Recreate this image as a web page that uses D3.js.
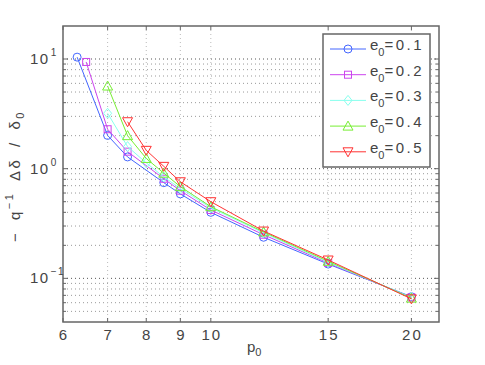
<!DOCTYPE html>
<html>
<head>
<meta charset="utf-8">
<script src="https://cdn.jsdelivr.net/npm/d3@7"></script>
<style>
  body { margin: 0; background: #fff; }
  text { font-family: "Liberation Sans", Arial, sans-serif; fill: #444; }
</style>
</head>
<body>
<div id="chart"></div>
<script>
    // data
    var labels = ["0.1", "0.2", "0.3", "0.4", "0.5"];
    var colors = ["#4466ff", "#cc44ee", "#88ffee", "#77ee33", "#ff3333"];
    var shapes = ["circle", "square", "diamond", "triangle", "triangledown"];

    var p_01 = [6.3, 7, 7.5, 8.5, 9, 10, 12, 15, 20];
    var v_01 = [10.4, 2.01, 1.28, 0.746, 0.589, 0.40, 0.237, 0.135, 0.068];
    var p_02 = [6.5, 7, 7.5, 8.5, 9, 10, 12, 15, 20];
    var v_02 = [9.4, 2.29, 1.43, 0.81, 0.63, 0.42, 0.25, 0.138, 0.067];
    var p_03 = [7, 7.5, 8, 8.5, 9, 10, 12, 15, 20];
    var v_03 = [3.2, 1.59, 1.13, 0.84, 0.66, 0.44, 0.26, 0.14, 0.067];
    var p_04 = [7, 7.5, 8, 8.5, 9, 10, 12, 15, 20];
    var v_04 = [5.67, 2.0, 1.24, 0.91, 0.686, 0.45, 0.265, 0.143, 0.066];
    var p_05 = [7.5, 8, 8.5, 9, 10, 12, 15, 20];
    var v_05 = [2.68, 1.47, 1.05, 0.76, 0.50, 0.27, 0.147, 0.065];

    var xticks = [6, 7, 8, 9, 10, 15, 20];
    var yticks = [0.1, 1, 10];
    var exps = ["\u22121", "0", "1"];

    var series = [[p_01, v_01], [p_02, v_02], [p_03, v_03], [p_04, v_04], [p_05, v_05]];

    var w = 485, h = 365;
    var pl = 63, pr = 439, pt = 26, pb = 322;

    var x = d3.scaleLog().domain([6, 22]).range([pl, pr]);
    var y = d3.scaleLog().domain([0.04, 20]).range([pb, pt]);

    var svg = d3.select("#chart").append("svg")
        .attr("width", w)
        .attr("height", h);

    // minor y positions: 2..9 times each decade
    var yminor = [];
    [0.01, 0.1, 1, 10].forEach(function(d) {
        for (var k = 2; k <= 9; k++) {
            var v = d * k;
            if (v > 0.04 && v < 20) yminor.push(v);
        }
    });

    var grid = svg.append("g");
    grid.selectAll("line.ymin")
        .data(yminor)
        .enter().append("line")
        .attr("x1", pl).attr("x2", pr)
        .attr("y1", function(d) { return y(d); })
        .attr("y2", function(d) { return y(d); })
        .style("stroke", "#999")
        .style("stroke-width", 1)
        .style("stroke-dasharray", "1,3");
    grid.selectAll("line.ymaj")
        .data(yticks)
        .enter().append("line")
        .attr("x1", pl).attr("x2", pr)
        .attr("y1", function(d) { return y(d); })
        .attr("y2", function(d) { return y(d); })
        .style("stroke", "#555")
        .style("stroke-width", 1)
        .style("stroke-dasharray", "1,3");
    grid.selectAll("line.x")
        .data(xticks.slice(1))
        .enter().append("line")
        .attr("x1", function(d) { return x(d); })
        .attr("x2", function(d) { return x(d); })
        .attr("y1", pt).attr("y2", pb)
        .style("stroke", "#bbb")
        .style("stroke-width", 1)
        .style("stroke-dasharray", "1,3");

    // ticks, all four sides, inward
    var tk = svg.append("g").style("stroke", "#666").style("stroke-width", 1);
    xticks.forEach(function(d) {
        tk.append("line").attr("x1", x(d)).attr("x2", x(d)).attr("y1", pb).attr("y2", pb - 4);
        tk.append("line").attr("x1", x(d)).attr("x2", x(d)).attr("y1", pt).attr("y2", pt + 4);
    });
    yminor.concat(yticks).forEach(function(d) {
        var len = yticks.indexOf(d) >= 0 ? 5 : 3;
        tk.append("line").attr("x1", pl).attr("x2", pl + len).attr("y1", y(d)).attr("y2", y(d));
        tk.append("line").attr("x1", pr).attr("x2", pr - len).attr("y1", y(d)).attr("y2", y(d));
    });

    svg.append("rect")
        .attr("x", pl).attr("y", pt)
        .attr("width", pr - pl).attr("height", pb - pt)
        .style("fill", "none")
        .style("stroke", "#666")
        .style("stroke-width", 1.5);

    // tick labels
    svg.selectAll("text.xt")
        .data(xticks)
        .enter().append("text")
        .attr("x", function(d) { return x(d) + 1; })
        .attr("y", 340)
        .attr("text-anchor", "middle")
        .style("font-size", "15px")
        .style("letter-spacing", "2px")
        .text(function(d) { return d; });

    yticks.forEach(function(d, i) {
        var t = svg.append("text")
            .attr("x", 30)
            .attr("y", y(d) + 5)
            .style("font-size", "15px")
            .style("letter-spacing", "1.5px");
        t.append("tspan").text("10");
        t.append("tspan").attr("dx", 1).attr("dy", -8).style("font-size", "10px").text(exps[i]);
    });

    // axis labels
    var xl = svg.append("text")
        .attr("x", 247).attr("y", 352)
        .style("font-size", "15px");
    xl.append("tspan").text("p");
    xl.append("tspan").attr("dy", 4).style("font-size", "11px").text("0");

    var yl = svg.append("text")
        .attr("transform", "translate(20,176) rotate(-90)")
        .attr("text-anchor", "middle")
        .style("font-size", "15px")
        .style("letter-spacing", "2.5px")
        .style("word-spacing", "4px");
    yl.append("tspan").text("\u2212 q");
    yl.append("tspan").attr("dy", -7).style("font-size", "11px").text("\u22121");
    yl.append("tspan").attr("dy", 7).text(" \u0394\u03b4 / \u03b4");
    yl.append("tspan").attr("dy", 4).style("font-size", "11px").text("0");

    // markers
    function marker(g, shape, color) {
        if (shape == "circle") {
            g.append("circle").attr("r", 4);
        } else if (shape == "square") {
            g.append("rect").attr("x", -3.5).attr("y", -3.5).attr("width", 7).attr("height", 7);
        } else if (shape == "diamond") {
            g.append("path").attr("d", "M0,-5L4,0L0,5L-4,0Z");
        } else if (shape == "triangle") {
            g.append("path").attr("d", "M0,-5L5,4L-5,4Z");
        } else {
            g.append("path").attr("d", "M0,5L5,-4L-5,-4Z");
        }
        g.selectAll("*").style("fill", "none").style("stroke", color).style("stroke-width", 1);
    }

    var line = d3.line()
        .x(function(d) { return x(d[0]); })
        .y(function(d) { return y(d[1]); });

    series.forEach(function(s, i) {
        var pts = s[0].map(function(p, j) { return [p, s[1][j]]; });
        var g = svg.append("g");
        g.append("path")
            .attr("d", line(pts))
            .style("fill", "none")
            .style("stroke", colors[i])
            .style("stroke-width", 1);
        pts.forEach(function(d) {
            var m = g.append("g").attr("transform", "translate(" + x(d[0]) + "," + y(d[1]) + ")");
            marker(m, shapes[i], colors[i]);
        });
    });

    // legend
    var lg = svg.append("g");
    lg.append("rect")
        .attr("x", 323).attr("y", 34)
        .attr("width", 107).attr("height", 133)
        .style("fill", "#fff")
        .style("stroke", "#666")
        .style("stroke-width", 1.5);
    labels.forEach(function(l, i) {
        var ly = 49 + i * 25.7;
        lg.append("line")
            .attr("x1", 330).attr("x2", 366)
            .attr("y1", ly).attr("y2", ly)
            .style("stroke", colors[i]);
        var m = lg.append("g").attr("transform", "translate(348," + ly + ")");
        marker(m, shapes[i], colors[i]);
        var t = lg.append("text")
            .attr("x", 370).attr("y", ly + 1)
            .style("font-size", "15px");
        t.append("tspan").text("e");
        t.append("tspan").attr("dy", 6).style("font-size", "11px").text("0");
        t.append("tspan").attr("dy", -6).style("letter-spacing", "2.5px").text("=" + l);
    });
</script>
</body>
</html>
